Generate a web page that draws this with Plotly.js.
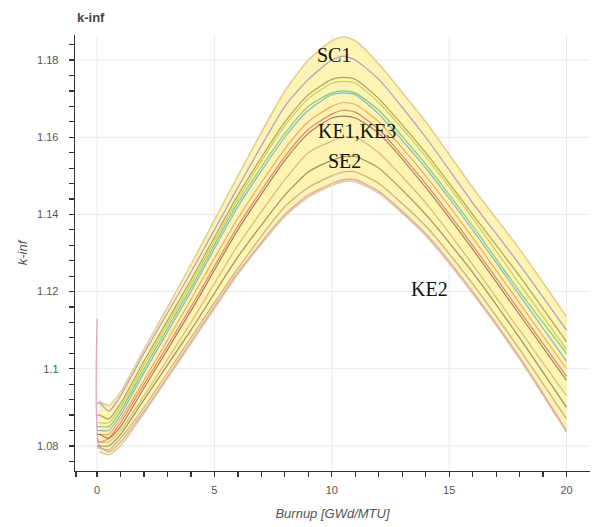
<!DOCTYPE html>
<html>
<head>
<meta charset="utf-8">
<script src="https://cdn.plot.ly/plotly-3.0.1.min.js"></script>
<style>
  html, body { margin: 0; padding: 0; background: #ffffff; }
  #chart { width: 593px; height: 527px; }
</style>
</head>
<body>
<div id="chart"></div>
<script>
// Burnup points (GWd/MTU) shared by the individual k-inf curves
const burnup = [0, 0.1, 0.5, 1, 2, 4, 6, 8, 9, 10, 10.5, 11, 12, 14, 16, 18, 20];

// k-inf per case
const kSC1   = [1.091, 1.0912, 1.089, 1.093, 1.104, 1.125, 1.147, 1.168, 1.175, 1.180, 1.181, 1.180, 1.175, 1.160, 1.143, 1.127, 1.110];
const kOlive = [1.088, 1.088, 1.087, 1.091, 1.102, 1.123, 1.145, 1.164, 1.171, 1.175, 1.1755, 1.175, 1.170, 1.156, 1.140, 1.124, 1.107];
const kLime  = [1.086, 1.086, 1.086, 1.090, 1.101, 1.122, 1.144, 1.163, 1.170, 1.174, 1.1745, 1.174, 1.169, 1.155, 1.139, 1.122, 1.105];
const kGreen = [1.085, 1.085, 1.085, 1.089, 1.100, 1.121, 1.143, 1.161, 1.168, 1.1715, 1.172, 1.1715, 1.167, 1.153, 1.137, 1.120, 1.104];
const kBlue  = [1.084, 1.084, 1.084, 1.088, 1.099, 1.120, 1.142, 1.160, 1.167, 1.171, 1.1715, 1.171, 1.166, 1.152, 1.136, 1.119, 1.102];
const kOrange= [1.083, 1.083, 1.083, 1.087, 1.097, 1.118, 1.139, 1.157, 1.164, 1.168, 1.169, 1.1685, 1.164, 1.150, 1.134, 1.117, 1.100];
const kRed   = [1.082, 1.081, 1.082, 1.086, 1.096, 1.116, 1.137, 1.155, 1.162, 1.166, 1.167, 1.1665, 1.162, 1.148, 1.132, 1.115, 1.098];
const kBrown = [1.083, 1.083, 1.082, 1.085, 1.095, 1.115, 1.136, 1.154, 1.161, 1.165, 1.1655, 1.165, 1.161, 1.147, 1.131, 1.114, 1.097];
const kKE13  = [1.081, 1.081, 1.081, 1.084, 1.093, 1.112, 1.132, 1.149, 1.156, 1.159, 1.160, 1.160, 1.156, 1.143, 1.127, 1.110, 1.093];
const kSE2   = [1.080, 1.080, 1.080, 1.083, 1.092, 1.110, 1.129, 1.145, 1.151, 1.154, 1.155, 1.155, 1.152, 1.140, 1.125, 1.108, 1.090];
const kGray  = [1.0795, 1.0795, 1.079, 1.082, 1.090, 1.108, 1.126, 1.142, 1.147, 1.150, 1.151, 1.151, 1.148, 1.137, 1.122, 1.105, 1.087];
const kKE2   = [1.113, 1.080, 1.0785, 1.081, 1.089, 1.107, 1.125, 1.140, 1.145, 1.148, 1.149, 1.149, 1.146, 1.135, 1.120, 1.103, 1.084];

// Uncertainty envelope
const bandBurnup = [0.1, 0.5, 1, 2, 4, 6, 8, 9, 10, 10.5, 11, 12, 14, 16, 18, 20];
const bandUpper  = [1.0915, 1.0905, 1.094, 1.105, 1.127, 1.150, 1.172, 1.180, 1.185, 1.186, 1.185, 1.179, 1.164, 1.147, 1.131, 1.1135];
const bandLower  = [1.0785, 1.0777, 1.080, 1.0885, 1.1065, 1.1245, 1.1395, 1.1445, 1.1475, 1.1485, 1.1485, 1.1455, 1.1345, 1.1195, 1.1025, 1.0835];

// Case labels
const labelText = ['SC1', 'KE1,KE3', 'SE2', 'KE2'];
const labelX    = [10.08, 11.09, 10.52, 14.16];
const labelY    = [1.1812, 1.1617, 1.1539, 1.1206];

// Ticks: every tick position, labelled only at the major ones
const xTickVals = [-0.9, 0, 1, 2, 3, 4, 5, 6, 7, 8, 9, 10, 11, 12, 13, 14, 15, 16, 17, 18, 19, 20];
const xTickText = ['', '0', '', '', '', '', '5', '', '', '', '', '10', '', '', '', '', '15', '', '', '', '', '20'];
const xGrid     = [0, 5, 10, 15, 20];
const yTickVals = [1.076, 1.08, 1.084, 1.088, 1.092, 1.096, 1.10, 1.104, 1.108, 1.112, 1.116,
                   1.12, 1.124, 1.128, 1.132, 1.136, 1.14, 1.144, 1.148, 1.152, 1.156,
                   1.16, 1.164, 1.168, 1.172, 1.176, 1.18, 1.184];
const yTickText = ['', '1.08', '', '', '', '', '1.1', '', '', '', '',
                   '1.12', '', '', '', '', '1.14', '', '', '', '',
                   '1.16', '', '', '', '', '1.18', ''];
const yGrid     = [1.08, 1.10, 1.12, 1.14, 1.16, 1.18];

const curves = [
  { y: kSC1,   color: '#a58bc9' },
  { y: kOlive, color: '#9c9a52' },
  { y: kLime,  color: '#c9c250' },
  { y: kGreen, color: '#6cc46a' },
  { y: kBlue,  color: '#6aaed6' },
  { y: kOrange,color: '#f19a4e' },
  { y: kRed,   color: '#e0705e' },
  { y: kBrown, color: '#946a4e' },
  { y: kKE13,  color: '#d9ab74' },
  { y: kSE2,   color: '#8e7e58' },
  { y: kGray,  color: '#b8a482' },
  { y: kKE2,   color: '#d993b8' }
];

const xRange = [-0.94, 21.0];
const yRange = [1.0735, 1.1865];
const smooth = 0.6;

const traces = [
  {
    x: bandBurnup, y: bandLower, type: 'scatter', mode: 'lines',
    line: { color: '#e2cf98', width: 1.6, shape: 'spline', smoothing: smooth },
    hoverinfo: 'skip', showlegend: false
  },
  {
    x: bandBurnup, y: bandUpper, type: 'scatter', mode: 'lines',
    fill: 'tonexty', fillcolor: '#fdf3b2',
    line: { color: '#e2cf98', width: 1.6, shape: 'spline', smoothing: smooth },
    hoverinfo: 'skip', showlegend: false
  }
];

curves.forEach(c => {
  traces.push({
    x: burnup, y: c.y, type: 'scatter', mode: 'lines',
    line: { color: c.color, width: 1.2, shape: 'spline', smoothing: smooth },
    opacity: 0.85, showlegend: false
  });
});

// Light grid at the labelled ticks, kept beneath the data
const gridShapes = [];
xGrid.forEach(v => gridShapes.push({
  type: 'line', xref: 'x', yref: 'paper', x0: v, x1: v, y0: 0, y1: 1,
  line: { color: '#e9e9e9', width: 1 }, layer: 'below'
}));
yGrid.forEach(v => gridShapes.push({
  type: 'line', xref: 'paper', yref: 'y', x0: 0, x1: 1, y0: v, y1: v,
  line: { color: '#e9e9e9', width: 1 }, layer: 'below'
}));

const axisFont = { family: 'Liberation Sans, Arial, sans-serif', size: 11, color: '#555555' };
const titleFont = { family: 'Liberation Sans, Arial, sans-serif', size: 13, color: '#555555' };

// Plot heading, placed flush with the left axis line
const heading = {
  text: '<b>k-inf</b>', xref: 'paper', yref: 'paper', x: 0, y: 1,
  xanchor: 'left', yanchor: 'bottom', yshift: 8, showarrow: false,
  font: { family: 'Liberation Sans, Arial, sans-serif', size: 13, color: '#444444' }
};

const layout = {
  width: 593,
  height: 527,
  margin: { l: 75, r: 3, t: 35, b: 56 },
  paper_bgcolor: '#ffffff',
  plot_bgcolor: '#ffffff',
  showlegend: false,
  xaxis: {
    range: xRange,
    tickmode: 'array', tickvals: xTickVals, ticktext: xTickText,
    ticks: 'outside', ticklen: 5, tickwidth: 1.2, tickcolor: '#333333',
    showline: true, linecolor: '#333333', linewidth: 1.3,
    showgrid: false, zeroline: false,
    tickfont: axisFont,
    ticklabelstandoff: 3,
    title: { text: '<i>Burnup [GWd/MTU]</i>', standoff: 14, font: titleFont }
  },
  yaxis: {
    range: yRange,
    tickmode: 'array', tickvals: yTickVals, ticktext: yTickText,
    ticks: 'outside', ticklen: 5, tickwidth: 1.2, tickcolor: '#333333',
    showline: true, linecolor: '#333333', linewidth: 1.3,
    showgrid: false, zeroline: false,
    tickfont: axisFont,
    ticklabelstandoff: 8,
    title: { text: '<i>k-inf</i>', standoff: 6, font: titleFont }
  },
  shapes: gridShapes,
  annotations: [heading].concat(labelText.map((t, i) => ({
    x: labelX[i], y: labelY[i], xref: 'x', yref: 'y',
    text: t, showarrow: false, xanchor: 'center', yanchor: 'middle',
    font: { family: 'Liberation Serif, Times New Roman, serif', size: 20, color: '#111111' }
  })))
};

Plotly.newPlot('chart', traces, layout, { displayModeBar: false, staticPlot: true });
</script>
</body>
</html>
